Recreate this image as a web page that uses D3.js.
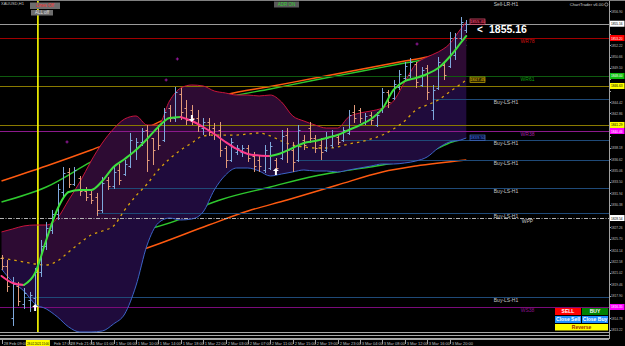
<!DOCTYPE html>
<meta charset="utf-8">
<head>
  <title>XAUUSD H1</title>
</head>
<script src="https://d3js.org/d3.v7.min.js"></script>
<style>
  body { margin: 0; background: #000; }
  text { font-family: "Liberation Sans", Arial, sans-serif; }
</style>
<div id="chart"></div>
<script>

// time axis: bar index -> label
var timeIdx = [0, 8, 12, 16, 20, 24, 28, 32, 36, 40, 44, 48, 52, 56, 60, 64, 68, 72, 76, 80];
var timeLabels = ["28 Feb 09:00", "28 Feb 17:00", "28 Feb 21:00", "1 Mar 01:00", "1 Mar 06:00", "1 Mar 10:00",
  "1 Mar 14:00", "1 Mar 18:00", "1 Mar 22:00", "2 Mar 03:00", "2 Mar 07:00", "2 Mar 11:00", "2 Mar 15:00",
  "2 Mar 19:00", "2 Mar 23:00", "3 Mar 04:00", "3 Mar 08:00", "3 Mar 12:00", "3 Mar 16:00", "3 Mar 20:00"];

// price axis labels
var priceTicks = [1856.90, 1855.34, 1853.78, 1852.22, 1850.66, 1849.10, 1847.54, 1845.98, 1844.42, 1842.86,
  1841.30, 1839.74, 1838.18, 1836.62, 1835.06, 1833.50, 1831.94, 1830.38, 1828.82, 1827.26, 1825.70,
  1824.14, 1822.58, 1821.02, 1819.46, 1817.90, 1816.34, 1814.78, 1813.22];

// H1 bars
var open = [1823.06, 1821.97, 1814.84, 1819.23, 1816.76, 1817.31, 1817.58, 1821.15, 1824.71, 1826.90,
  1829.09, 1832.11, 1834.85, 1833.20, 1834.02, 1832.24, 1831.83, 1831.42, 1829.64, 1833.75,
  1832.93, 1835.12, 1834.57, 1835.67, 1837.86, 1838.96, 1840.60, 1839.50, 1840.87, 1839.23,
  1843.61, 1842.24, 1845.53, 1843.61, 1843.34, 1842.24, 1840.87, 1841.70, 1840.87, 1840.60,
  1838.13, 1836.49, 1837.59, 1837.59, 1838.13, 1837.04, 1836.49, 1835.12, 1835.39, 1836.49,
  1836.76, 1839.91, 1837.86, 1836.49, 1839.23, 1840.87, 1839.50, 1838.54, 1837.86, 1838.54,
  1839.64, 1839.23, 1840.19, 1843.07, 1843.34, 1841.70, 1842.65, 1841.28, 1843.34, 1845.81,
  1844.98, 1846.49, 1847.72, 1848.13, 1849.64, 1846.76, 1849.09, 1843.34, 1846.35, 1849.50,
  1849.37, 1850.87, 1853.20, 1854.30];
var high = [1823.47, 1822.79, 1820.46, 1819.78, 1818.95, 1818.41, 1821.69, 1825.53, 1828.00, 1829.64,
  1833.20, 1835.53, 1835.39, 1835.53, 1834.30, 1832.79, 1832.38, 1831.97, 1834.16, 1834.16,
  1835.53, 1835.94, 1836.49, 1840.19, 1839.50, 1840.87, 1841.28, 1839.50, 1841.28, 1843.61,
  1844.02, 1846.49, 1846.35, 1844.71, 1844.02, 1843.34, 1842.24, 1842.24, 1841.56, 1841.70,
  1838.41, 1839.50, 1838.54, 1838.54, 1838.54, 1837.59, 1837.17, 1838.54, 1838.96, 1836.76,
  1840.60, 1840.87, 1838.96, 1841.28, 1839.91, 1841.70, 1839.91, 1839.50, 1840.33, 1840.60,
  1839.91, 1841.01, 1843.34, 1844.02, 1843.61, 1842.93, 1843.07, 1843.07, 1846.35, 1846.08,
  1847.45, 1848.82, 1849.92, 1850.46, 1849.92, 1849.23, 1849.50, 1846.76, 1850.60, 1849.92,
  1854.03, 1853.89, 1856.08, 1855.67];
var low = [1821.42, 1818.41, 1813.75, 1816.49, 1816.08, 1815.67, 1816.62, 1820.46, 1824.16, 1826.35,
  1828.27, 1831.28, 1832.65, 1832.93, 1831.56, 1830.87, 1830.46, 1828.82, 1829.23, 1832.38,
  1832.52, 1833.06, 1834.30, 1835.39, 1836.49, 1838.41, 1834.85, 1835.80, 1837.86, 1838.96,
  1841.70, 1841.70, 1841.97, 1841.28, 1841.28, 1840.33, 1839.91, 1839.78, 1839.23, 1836.90,
  1835.39, 1836.22, 1837.17, 1836.90, 1836.22, 1834.85, 1834.85, 1834.71, 1835.12, 1834.85,
  1836.49, 1836.08, 1834.85, 1836.22, 1837.86, 1838.82, 1837.45, 1836.49, 1837.59, 1838.13,
  1838.54, 1838.96, 1839.91, 1841.56, 1841.56, 1841.28, 1841.28, 1841.01, 1842.93, 1843.61,
  1844.71, 1846.08, 1847.45, 1847.72, 1846.35, 1846.49, 1844.71, 1841.97, 1846.08, 1847.45,
  1849.09, 1850.19, 1852.93, 1853.89];
var close = [1821.97, 1819.23, 1819.50, 1817.17, 1818.27, 1817.99, 1821.15, 1824.71, 1827.17, 1829.09,
  1832.52, 1834.71, 1833.20, 1835.12, 1832.24, 1831.42, 1831.01, 1829.64, 1833.34, 1832.93,
  1834.85, 1833.75, 1835.94, 1839.23, 1838.96, 1840.46, 1836.49, 1837.86, 1838.54, 1843.07,
  1842.24, 1845.81, 1843.07, 1841.97, 1842.24, 1841.15, 1841.70, 1840.33, 1840.05, 1837.86,
  1836.49, 1838.96, 1838.13, 1838.13, 1836.76, 1835.67, 1835.67, 1837.86, 1838.41, 1835.39,
  1839.78, 1837.86, 1836.22, 1840.60, 1838.54, 1839.50, 1838.13, 1837.59, 1839.50, 1839.91,
  1838.96, 1840.60, 1842.65, 1842.24, 1842.24, 1842.52, 1841.97, 1842.65, 1845.81, 1844.44,
  1846.90, 1848.27, 1849.37, 1849.92, 1847.18, 1848.82, 1845.81, 1846.08, 1849.92, 1848.13,
  1853.20, 1853.20, 1855.40, 1855.16];

// bands and fast MA, read every second bar
var bandIdx = [0, 2, 4, 6, 8, 10, 12, 14, 16, 18, 20, 22, 24, 26, 28, 30, 32, 34, 36, 38, 40, 42,
  44, 46, 48, 50, 52, 54, 56, 58, 60, 62, 64, 66, 68, 70, 72, 74, 76, 78, 80, 82, 83];
var upperBand = [1826.63, 1827.04, 1827.45, 1827.58, 1827.58, 1828.54, 1831.01, 1833.48, 1836.35, 1838.82,
  1840.74, 1842.11, 1842.52, 1841.28, 1841.28, 1844.57, 1846.35, 1846.76, 1846.63, 1845.94, 1845.67,
  1845.39, 1845.39, 1845.26, 1845.39, 1844.44, 1842.52, 1841.83, 1841.28, 1840.87, 1840.87, 1842.38,
  1842.93, 1843.20, 1843.61, 1844.57, 1847.18, 1849.64, 1850.60, 1851.29, 1852.38, 1854.44, 1855.40];
var middleBand = [1823.06, 1822.79, 1822.52, 1822.24, 1822.10, 1822.65, 1823.89, 1825.12, 1826.21, 1826.76,
  1827.45, 1829.64, 1831.56, 1833.20, 1835.12, 1836.63, 1837.86, 1838.82, 1839.78, 1839.91, 1839.91,
  1839.91, 1840.05, 1840.19, 1839.78, 1839.09, 1838.54, 1838.27, 1838.13, 1838.13, 1838.27, 1838.68,
  1838.96, 1839.37, 1839.91, 1840.74, 1841.83, 1843.34, 1844.02, 1844.71, 1845.81, 1846.90, 1847.45];
var lowerBand = [1821.56, 1819.78, 1818.54, 1816.76, 1816.08, 1814.98, 1813.61, 1812.93, 1812.93, 1813.06,
  1814.02, 1815.39, 1819.23, 1824.84, 1827.86, 1828.54, 1828.27, 1828.41, 1829.37, 1832.38, 1834.43,
  1835.39, 1835.39, 1834.98, 1834.30, 1834.57, 1834.85, 1835.12, 1834.98, 1834.98, 1834.85, 1835.12,
  1835.39, 1835.67, 1835.94, 1835.94, 1836.08, 1836.35, 1836.90, 1838.13, 1838.96, 1839.23, 1839.50];
var fastMA = [1820.60, 1819.64, 1819.36, 1821.01, 1825.53, 1829.78, 1832.11, 1832.38, 1832.38, 1833.61,
  1835.53, 1836.63, 1837.86, 1839.37, 1841.01, 1842.24, 1842.38, 1841.83, 1841.01, 1840.05, 1838.96,
  1838.00, 1837.31, 1837.11, 1837.04, 1837.45, 1838.13, 1838.82, 1839.09, 1839.50, 1839.91, 1840.60,
  1841.28, 1842.11, 1843.48, 1846.08, 1847.31, 1847.72, 1848.27, 1849.09, 1850.60, 1852.52, 1853.48];

// slow averages
var slowIdx = [0, 8, 16, 24, 32, 40, 48, 56, 64, 72, 76, 80, 83];
var slowOrange = [1833.61, 1835.67, 1837.86, 1840.19, 1843.07, 1845.39, 1846.56, 1847.72, 1848.89, 1850.05, 1850.60, 1851.56, 1852.93];
var slowGreen = [1830.74, 1832.79, 1836.22, 1839.23, 1842.38, 1844.98, 1846.22, 1847.45, 1848.61, 1849.78, 1850.33, 1851.29, 1852.24];
var lowOrangeIdx = [25, 28, 37, 44, 51, 60, 68, 74, 83];
var lowOrange = [1824.16, 1824.98, 1827.58, 1829.50, 1831.01, 1833.06, 1834.85, 1835.67, 1836.49];
var lowGreenIdx = [27, 32, 37, 39, 48, 56, 60, 68, 74, 78, 81, 82];
var lowGreen = [1827.17, 1828.41, 1830.46, 1831.01, 1832.79, 1834.30, 1834.85, 1835.80, 1836.76, 1838.13, 1839.09, 1839.23];

// horizontal levels (from = bar index where the line starts, -1 = whole chart)
var levelName = ["bid", "WR78", "WR61", "ADR", "Buy-LS-H1", "ADR", "WR38", "Buy-LS-H1", "Buy-LS-H1",
  "Buy-LS-H1", "Buy-LS-H1", "WPP", "Buy-LS-H1", "WS38", "frame", "frame", "frame"];
var levelPrice = [1855.16, 1853.20, 1848.00, 1846.63, 1844.85, 1841.29, 1840.46, 1839.23, 1836.49,
  1832.65, 1829.23, 1828.54, 1817.72, 1816.35, 1812.93, 1812.51, 1812.10];
var levelFrom = [-1, -1, -1, -1, 77, -1, -1, 61, 53, 19, 17, -1, 4, -1, -1, -1, -1];

// signal arrows and markers
var arrowIdx = [6, 34, 49];
var arrowPrice = [1816.35, 1842.11, 1834.98];
var arrowDir = ["up", "down", "up"];
var crossIdx = [11.7, 29.4, 31.4, 74.2];
var crossPrice = [1838.96, 1847.45, 1850.33, 1852.38];

var vLineIdx = 6.5;

// ---------------------------------------------------------------
var width = 625, height = 346;
var plotRight = 609, plotBottom = 339;

var levelStyle = {
  "bid":       {line: "#9a9a9a", text: "#c8c8c8", box: "#ffffff", boxText: "#000"},
  "WR78":      {line: "#a00000", text: "#d01010", box: "#ff0000", boxText: "#fff"},
  "WR61":      {line: "#0f5a0f", text: "#10a010", box: "#10c010", boxText: "#fff"},
  "ADR":       {line: "#8a7a00", text: "#c8b400", box: "#ffff00", boxText: "#000"},
  "Buy-LS-H1": {line: "#1f4a78", text: "#c8c8c8"},
  "WR38":      {line: "#8c1a8c", text: "#a020a0", box: "#ff00ff", boxText: "#fff"},
  "WPP":       {line: "#b4b4b4", text: "#c8c8c8", box: "#ffffff", boxText: "#000", dash: "4,1.5,1,1.5"},
  "WS38":      {line: "#7a0a7a", text: "#8a108a", box: "#ff00ff", boxText: "#fff"},
  "frame":     {line: "#a8a8a8"}
};

var x = d3.scaleLinear().domain([0, 83]).range([1.5, 466.3]);
var y = d3.scaleLinear().domain([1812.10, 1858.41]).range([338, 0]);

var svg = d3.select("#chart")
  .append("svg")
    .attr("width", width)
    .attr("height", height)
    .style("display", "block")
    .style("background", "#000");

svg.append("defs").append("clipPath").attr("id", "plot")
  .append("rect").attr("x", 0).attr("y", 0).attr("width", plotRight).attr("height", plotBottom);

var plot = svg.append("g").attr("clip-path", "url(#plot)");

function pts(idx, vals) {
  return idx.map(function(d, i) { return [d, vals[i]]; });
}
var line = d3.line()
  .x(function(d) { return x(d[0]); })
  .y(function(d) { return y(d[1]); })
  .curve(d3.curveMonotoneX);

// slow averages (they pass under the band fill)
plot.append("path").attr("d", line(pts(slowIdx, slowGreen)))
  .attr("fill", "none").attr("stroke", "#2ec82e").attr("stroke-width", 1.4);
plot.append("path").attr("d", line(pts(slowIdx, slowOrange)))
  .attr("fill", "none").attr("stroke", "#ff5a10").attr("stroke-width", 1.4);
plot.append("path").attr("d", line(pts(lowGreenIdx, lowGreen)))
  .attr("fill", "none").attr("stroke", "#2ec82e").attr("stroke-width", 1.4);
plot.append("path").attr("d", line(pts(lowOrangeIdx, lowOrange)))
  .attr("fill", "none").attr("stroke", "#ff5a10").attr("stroke-width", 1.4);

// band fill
var bandRows = bandIdx.map(function(d, i) {
  return {i: d, up: upperBand[i], mid: middleBand[i], lo: lowerBand[i]};
});
var areaTop = d3.area()
  .x(function(d) { return x(d.i); })
  .y0(function(d) { return y(d.mid); })
  .y1(function(d) { return y(d.up); })
  .curve(d3.curveMonotoneX);
var areaBottom = d3.area()
  .x(function(d) { return x(d.i); })
  .y0(function(d) { return y(d.lo); })
  .y1(function(d) { return y(d.mid); })
  .curve(d3.curveMonotoneX);
plot.append("path").attr("d", areaTop(bandRows)).attr("fill", "#2d0b33");
plot.append("path").attr("d", areaBottom(bandRows)).attr("fill", "#1f0b3c");

// horizontal levels
levelPrice.forEach(function(p, i) {
  var st = levelStyle[levelName[i]];
  plot.append("line")
    .attr("x1", levelFrom[i] < 0 ? 0 : x(levelFrom[i]))
    .attr("x2", plotRight)
    .attr("y1", Math.round(y(p)) + 0.5)
    .attr("y2", Math.round(y(p)) + 0.5)
    .attr("stroke", st.line)
    .attr("stroke-width", 1)
    .attr("stroke-dasharray", st.dash || null);
});

// yellow vertical line
plot.append("line")
  .attr("x1", x(vLineIdx)).attr("x2", x(vLineIdx))
  .attr("y1", 0).attr("y2", 332)
  .attr("stroke", "#ffff00").attr("stroke-width", 1.6);

// band lines
plot.append("path").attr("d", line(pts(bandIdx, upperBand)))
  .attr("fill", "none").attr("stroke", "#c8143c").attr("stroke-width", 1);
plot.append("path").attr("d", line(pts(bandIdx, lowerBand)))
  .attr("fill", "none").attr("stroke", "#3c64c8").attr("stroke-width", 1);
plot.append("path").attr("d", line(pts(bandIdx, middleBand)))
  .attr("fill", "none").attr("stroke", "#d9a010").attr("stroke-width", 1.3)
  .attr("stroke-dasharray", "2.5,4");

// OHLC bars
var bars = plot.append("g");
open.forEach(function(o, i) {
  var c = close[i];
  var col = c >= o ? "#7ea9dc" : "#e29a7a";
  var cx = Math.round(x(i)) + 0.5;
  bars.append("line").attr("x1", cx).attr("x2", cx)
    .attr("y1", y(high[i])).attr("y2", y(low[i])).attr("stroke", col);
  bars.append("line").attr("x1", cx - 2).attr("x2", cx)
    .attr("y1", Math.round(y(o)) + 0.5).attr("y2", Math.round(y(o)) + 0.5).attr("stroke", col);
  bars.append("line").attr("x1", cx).attr("x2", cx + 2)
    .attr("y1", Math.round(y(c)) + 0.5).attr("y2", Math.round(y(c)) + 0.5).attr("stroke", col);
});

// fast MA: green when rising, pink when falling
var maPts = pts(bandIdx, fastMA);
var runs = [], cur = null;
for (var k = 1; k < maPts.length; k++) {
  var dir = maPts[k][1] >= maPts[k - 1][1] ? "up" : "down";
  if (!cur || cur.dir !== dir) {
    cur = {dir: dir, pts: [maPts[k - 1]]};
    runs.push(cur);
  }
  cur.pts.push(maPts[k]);
}
runs.forEach(function(r) {
  plot.append("path").attr("d", line(r.pts))
    .attr("fill", "none")
    .attr("stroke", r.dir === "up" ? "#3ee03e" : "#ff3c8c")
    .attr("stroke-width", 2)
    .attr("stroke-linecap", "round");
});

// arrows
arrowIdx.forEach(function(d, i) {
  var ax = x(d), ay = y(arrowPrice[i]);
  var s = arrowDir[i] === "up" ? -1 : 1;
  plot.append("path")
    .attr("d", "M-1," + (-4 * s) + "L1," + (-4 * s) + "L1,0L3,0L0," + (3 * s) + "L-3,0L-1,0Z")
    .attr("transform", "translate(" + ax + "," + ay + ")")
    .attr("fill", "#ffffff");
});

// purple crosses
crossIdx.forEach(function(d, i) {
  var cx = x(d), cy = y(crossPrice[i]);
  plot.append("path").attr("d", "M" + (cx - 1.5) + "," + cy + "H" + (cx + 1.5) + "M" + cx + "," + (cy - 1.5) + "V" + (cy + 1.5))
    .attr("stroke", "#9a1aa0").attr("stroke-width", 1);
});

// level captions
levelPrice.forEach(function(p, i) {
  var nm = levelName[i], st = levelStyle[nm];
  if (nm === "bid" || nm === "ADR" || nm === "frame") return;
  svg.append("text")
    .attr("x", nm === "Buy-LS-H1" ? 506 : 527.5)
    .attr("y", y(p) + 5)
    .attr("text-anchor", "middle")
    .attr("font-size", 5)
    .attr("fill", st.text)
    .text(nm);
});
svg.append("text").attr("x", 506).attr("y", 6).attr("text-anchor", "middle")
  .attr("font-size", 5).attr("fill", "#c8c8c8").text("Sell-LR-H1");

// band end labels
var lastI = bandIdx.length - 1;
[[upperBand[lastI], "#ff6080", "#3a0010"], [middleBand[lastI], "#e0c000", "#302800"], [lowerBand[lastI], "#5080e0", "#000a30"]]
  .forEach(function(b) {
    var by = y(b[0]);
    svg.append("rect").attr("x", 470).attr("y", by - 3).attr("width", 15).attr("height", 5.5)
      .attr("fill", b[2]).attr("stroke", b[1]).attr("stroke-width", 0.6);
    svg.append("text").attr("x", 477.5).attr("y", by + 1.3).attr("text-anchor", "middle")
      .attr("font-size", 4.2).attr("fill", b[1]).text(b[0].toFixed(2));
  });

// current price callout
svg.append("text").attr("x", 477).attr("y", 33).attr("font-size", 10).attr("font-weight", "bold")
  .attr("fill", "#fff").text("<");
svg.append("text").attr("x", 489).attr("y", 33).attr("font-size", 10.5).attr("font-weight", "bold")
  .attr("fill", "#fff").text(close[close.length - 1].toFixed(2));

// right price axis; a tick label is hidden where a level box sits on it
svg.append("line").attr("x1", plotRight + 0.5).attr("x2", plotRight + 0.5)
  .attr("y1", 0).attr("y2", plotBottom).attr("stroke", "#a0a0a0");
var boxY = [];
levelPrice.forEach(function(p, i) { if (levelStyle[levelName[i]].box) boxY.push(y(p)); });
priceTicks.forEach(function(t) {
  var ty = y(t);
  svg.append("line").attr("x1", plotRight).attr("x2", plotRight + 2)
    .attr("y1", Math.round(ty) + 0.5).attr("y2", Math.round(ty) + 0.5).attr("stroke", "#a0a0a0");
  var hidden = boxY.some(function(b) { return Math.abs(b - ty) < 6; });
  if (hidden) return;
  svg.append("text").attr("x", 611).attr("y", ty + 1.5)
    .attr("font-size", 4).attr("textLength", 11.5).attr("lengthAdjust", "spacingAndGlyphs")
    .attr("fill", "#c0c0c0").text(t.toFixed(2));
});
levelPrice.forEach(function(p, i) {
  var st = levelStyle[levelName[i]];
  if (!st.box) return;
  svg.append("rect").attr("x", 610).attr("y", y(p) - 3).attr("width", 14.5).attr("height", 6).attr("fill", st.box);
  svg.append("text").attr("x", 611).attr("y", y(p) + 1.5)
    .attr("font-size", 4).attr("textLength", 11.5).attr("lengthAdjust", "spacingAndGlyphs")
    .attr("fill", st.boxText).text(p.toFixed(2));
});

// time axis
svg.append("line").attr("x1", 0).attr("x2", plotRight).attr("y1", plotBottom + 0.5).attr("y2", plotBottom + 0.5)
  .attr("stroke", "#a0a0a0");
var vx = x(vLineIdx);
timeIdx.forEach(function(d, i) {
  var tx = Math.round(x(d)) + 0.5;
  var label = timeLabels[i];
  var lx = tx + 1.2;
  // the yellow date box covers the start of this label
  if (lx < vx + 12.5 && lx + 18 > vx - 12) { label = label.replace(/^\d+ /, ""); lx = vx + 16; }
  svg.append("line").attr("x1", tx).attr("x2", tx).attr("y1", plotBottom).attr("y2", plotBottom + 5)
    .attr("stroke", "#a0a0a0");
  svg.append("text").attr("x", lx).attr("y", 344.5)
    .attr("font-size", 4).attr("fill", "#c0c0c0").text(label);
});
svg.append("rect").attr("x", vx - 12).attr("y", 340).attr("width", 24).attr("height", 6).attr("fill", "#ffff00");
svg.append("text").attr("x", vx).attr("y", 344.6).attr("text-anchor", "middle")
  .attr("font-size", 3.4).attr("textLength", 22).attr("lengthAdjust", "spacingAndGlyphs")
  .attr("fill", "#000").text("28.02.2021 15:00");

// top frame and info
svg.append("line").attr("x1", 0).attr("x2", width).attr("y1", 0.5).attr("y2", 0.5).attr("stroke", "#808080");
svg.append("text").attr("x", 1).attr("y", 5).attr("font-size", 4).attr("fill", "#c0c0c0")
  .text("XAUUSD,H1");
svg.append("rect").attr("x", 30).attr("y", 2.5).attr("width", 30).attr("height", 6.5).attr("fill", "#6e6e6e");
svg.append("text").attr("x", 45).attr("y", 7.2).attr("text-anchor", "middle").attr("font-size", 4.5)
  .attr("fill", "#ff3030").text("Lines Off");
svg.append("rect").attr("x", 31).attr("y", 10).attr("width", 22).attr("height", 5.5).attr("fill", "#6e6e6e");
svg.append("text").attr("x", 42).attr("y", 14.2).attr("text-anchor", "middle").attr("font-size", 4.5)
  .attr("fill", "#e0e0e0").text("ALL off");
svg.append("rect").attr("x", 274).attr("y", 1.5).attr("width", 25).attr("height", 6).attr("fill", "#5a5a5a");
svg.append("text").attr("x", 286.5).attr("y", 6).attr("text-anchor", "middle").attr("font-size", 4.5)
  .attr("fill", "#30d030").text("ADR ON");
svg.append("text").attr("x", 603.5).attr("y", 6).attr("text-anchor", "end").attr("font-size", 4.2)
  .attr("fill", "#d0d0d0").text("ChartTrader v6.00");
svg.append("circle").attr("cx", 606.3).attr("cy", 4.5).attr("r", 1.6).attr("fill", "none")
  .attr("stroke", "#d0d0d0").attr("stroke-width", 0.6);

// trade buttons
var btnText = ["SELL", "BUY", "Close Sell", "Close Buy", "Reverse"];
var btnFill = ["#ff0000", "#008000", "#1e90ff", "#1e90ff", "#ffff00"];
var btnInk = ["#fff", "#fff", "#fff", "#fff", "#a02000"];
var btnBox = [[555, 308, 26, 7], [582, 308, 26, 7], [555, 316, 26, 7], [582, 316, 26, 7], [555, 324, 53, 6.5]];
btnText.forEach(function(t, i) {
  var b = btnBox[i];
  svg.append("rect").attr("x", b[0]).attr("y", b[1]).attr("width", b[2]).attr("height", b[3]).attr("fill", btnFill[i]);
  svg.append("text").attr("x", b[0] + b[2] / 2).attr("y", b[1] + b[3] / 2 + 1.8).attr("text-anchor", "middle")
    .attr("font-size", 5).attr("font-weight", "bold").attr("fill", btnInk[i]).text(t);
});

</script>
